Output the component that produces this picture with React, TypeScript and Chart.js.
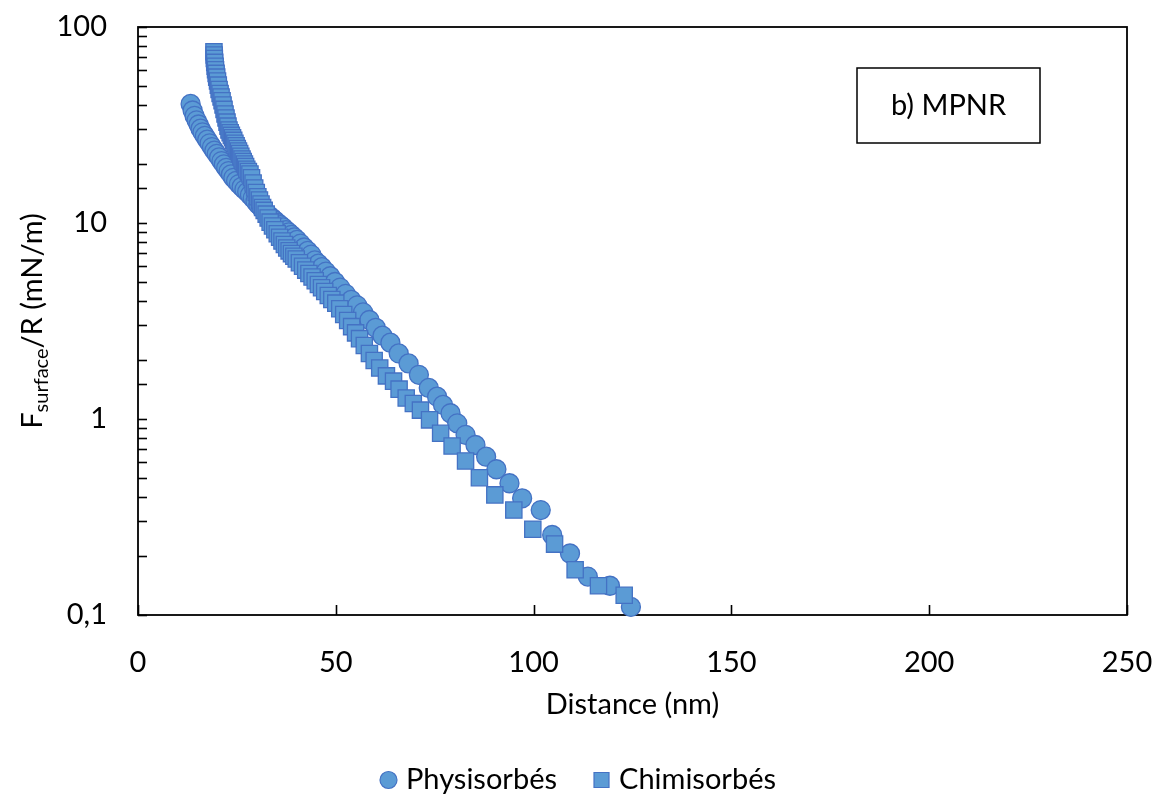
import React, { useEffect, useRef } from "react";
import { Chart, registerables } from "chart.js";

Chart.register(...registerables);

// ---- data ----
const seriesNames = ["Physisorbés", "Chimisorbés"];

const physX = [
  13.3, 13.8, 14.3, 14.8, 15.3, 15.8, 16.3, 16.9, 17.5, 18.1, 18.7, 19.3, 19.9, 20.5, 21.1, 21.7,
  22.3, 22.9, 23.5, 24.1, 24.8, 25.5, 26.2, 26.9, 27.6, 28.3, 29.0, 29.7, 30.4, 31.1, 31.8, 32.5,
  33.2, 33.9, 34.6, 35.3, 36.0, 36.7, 37.4, 38.1, 38.8, 39.5, 40.2, 41.1, 42.0, 42.9, 43.8, 44.7,
  45.6, 46.5, 47.5, 48.6, 49.8, 51.1, 52.5, 53.9, 55.4, 56.9, 58.5, 60.1, 61.8, 63.8, 65.9, 68.4,
  71.0, 73.5, 75.6, 77.1, 79.0, 80.7, 82.8, 85.3, 88.0, 90.6, 93.9, 97.1, 101.8, 104.7, 109.2,
  113.7, 119.3, 124.6,
];
const physY = [
  40.5, 37.5, 35.2, 33.4, 31.8, 30.3, 29.0, 27.8, 26.6, 25.5, 24.4, 23.4, 22.5, 21.6, 20.7, 19.9,
  19.1, 18.4, 17.7, 17.0, 16.4, 15.8, 15.3, 14.8, 14.4, 13.9, 13.4, 12.9, 12.4, 12.0, 11.6, 11.2,
  10.9, 10.6, 10.3, 10.0, 9.75, 9.5, 9.2, 8.95, 8.7, 8.45, 8.2, 7.85, 7.5, 7.2, 6.9, 6.45,
  6.2, 5.95, 5.65, 5.35, 5.0, 4.68, 4.35, 4.05, 3.8, 3.5, 3.2, 2.92, 2.66, 2.45, 2.16, 1.92,
  1.68, 1.44, 1.3, 1.18, 1.07, 0.95, 0.83, 0.737, 0.642, 0.554, 0.47, 0.394, 0.343, 0.256, 0.206,
  0.157, 0.141, 0.11,
];

const chemX = [
  19.2, 19.25, 19.3, 19.4, 19.5, 19.6, 19.75, 19.9, 20.1, 20.3, 20.5, 20.75, 21.0, 21.25, 21.5, 21.75,
  22.0, 22.25, 22.5, 22.75, 23.0, 23.3, 23.6, 23.9, 24.2, 24.5, 24.8, 25.1, 25.4, 25.7, 26.0, 26.3,
  26.6, 26.9, 27.2, 27.5, 27.9, 28.3, 28.7, 29.1, 29.5, 29.9, 30.3, 30.7, 31.1, 31.5, 31.9, 32.4,
  32.9, 33.4, 34.0, 34.6, 35.2, 35.8, 36.4, 37.0, 37.6, 38.2, 38.8, 39.4, 40.0, 40.8, 41.6, 42.4,
  43.2, 44.0, 44.8, 45.6, 46.4, 47.2, 48.1, 49.0, 50.0, 51.0, 52.0, 53.0, 54.0, 55.0, 56.0, 57.2,
  58.5, 59.7, 61.1, 62.8, 64.6, 66.0, 67.8, 69.6, 71.4, 73.7, 76.5, 79.4, 82.8, 86.3, 90.2, 95.0,
  99.8, 105.3, 110.5, 116.4, 122.9,
];
const chemY = [
  74.8, 72.0, 69.0, 66.0, 63.0, 60.5, 58.0, 55.5, 53.0, 50.5, 48.0, 45.8, 43.9, 42.0, 40.0, 38.0,
  36.0, 34.3, 32.7, 31.2, 29.8, 28.9, 28.0, 27.2, 26.4, 25.5, 24.8, 24.0, 23.3, 22.6, 21.9, 21.2,
  20.6, 20.0, 19.4, 18.8, 18.3, 17.8, 17.0, 16.0, 15.1, 14.3, 13.6, 13.1, 12.5, 12.0, 11.6, 11.1,
  10.6, 10.1, 9.66, 9.23, 8.81, 8.45, 8.09, 7.76, 7.46, 7.21, 6.98, 6.76, 6.55, 6.27, 6.01, 5.75,
  5.52, 5.3, 5.07, 4.86, 4.67, 4.47, 4.27, 4.07, 3.9, 3.65, 3.41, 3.18, 2.96, 2.75, 2.57, 2.37,
  2.16, 1.99, 1.82, 1.66, 1.56, 1.42, 1.28, 1.2, 1.11, 0.99, 0.845, 0.728, 0.611, 0.502, 0.41, 0.343,
  0.274, 0.23, 0.17, 0.141, 0.126,
];

const xMin = 0;
const xMax = 250;
const xStep = 50;
const yMin = 0.1;
const yMax = 100;
const yLabelValues = [0.1, 1, 10, 100];

const xTitle = "Distance (nm)";
const yTitleMain = "F";
const yTitleSub = "surface";
const yTitleRest = "/R (mN/m)";
const panelLabel = "b) MPNR";

const FONT = "Lato, 'Open Sans', sans-serif";
const FILL = "#5B9BD5";
const EDGE = "#4472C4";

function fmt(v: number): string {
  return String(v).replace(".", ",");
}

const decorPlugin = {
  id: "decor",
  beforeDatasetsDraw(chart: any) {
    const { ctx, chartArea: a, scales } = chart;
    ctx.save();
    ctx.strokeStyle = "#000";
    ctx.lineWidth = 1.6;
    const ys = scales.y;
    ys.ticks.forEach((t: any) => {
      const p = Math.round(ys.getPixelForValue(t.value)) + 0.5;
      ctx.beginPath();
      ctx.moveTo(a.left, p);
      ctx.lineTo(a.left + 9, p);
      ctx.stroke();
    });
    const xs = scales.x;
    xs.ticks.forEach((t: any) => {
      const p = Math.round(xs.getPixelForValue(t.value)) + 0.5;
      ctx.beginPath();
      ctx.moveTo(p, a.bottom);
      ctx.lineTo(p, a.bottom - 10);
      ctx.stroke();
    });
    ctx.lineWidth = 1.8;
    ctx.strokeRect(a.left, a.top, a.right - a.left, a.bottom - a.top);
    ctx.restore();
  },
  afterDraw(chart: any) {
    const { ctx, chartArea: a } = chart;
    ctx.save();
    // panel label box
    const bx = 857, by = 68, bw = 183, bh = 75;
    ctx.strokeStyle = "#000";
    ctx.lineWidth = 1.5;
    ctx.strokeRect(bx, by, bw, bh);
    ctx.fillStyle = "#000";
    ctx.font = `29px ${FONT}`;
    ctx.textAlign = "center";
    ctx.textBaseline = "middle";
    ctx.fillText(panelLabel, bx + bw / 2, by + bh / 2);

    // y title with subscript
    const mainFont = `29px ${FONT}`;
    const subFont = `20px ${FONT}`;
    ctx.font = mainFont;
    const w1 = ctx.measureText(yTitleMain).width;
    const w3 = ctx.measureText(yTitleRest).width;
    ctx.font = subFont;
    const w2 = ctx.measureText(yTitleSub).width;
    const total = w1 + w2 + w3;
    const cy = (a.top + a.bottom) / 2;
    ctx.translate(42, cy);
    ctx.rotate(-Math.PI / 2);
    ctx.textAlign = "left";
    ctx.textBaseline = "alphabetic";
    let x = -total / 2;
    ctx.font = mainFont;
    ctx.fillText(yTitleMain, x, 0);
    x += w1;
    ctx.font = subFont;
    ctx.fillText(yTitleSub, x, 6);
    x += w2;
    ctx.font = mainFont;
    ctx.fillText(yTitleRest, x, 0);
    ctx.restore();

    // legend
    ctx.save();
    ctx.font = `29px ${FONT}`;
    ctx.textBaseline = "middle";
    ctx.textAlign = "left";
    const ly = 780;
    const mark = 17;
    const gap = 9;
    const itemGap = 36;
    const widths = chart.data.datasets.map((d: any) => ctx.measureText(d.label).width);
    let totalW = 0;
    widths.forEach((w: number, i: number) => {
      totalW += mark + gap + w + (i < widths.length - 1 ? itemGap : 0);
    });
    let lx = chart.width / 2 - totalW / 2;
    chart.data.datasets.forEach((d: any, i: number) => {
      ctx.fillStyle = d.backgroundColor;
      ctx.strokeStyle = d.borderColor;
      ctx.lineWidth = 1.2;
      ctx.beginPath();
      if (d.pointStyle === "circle") {
        ctx.arc(lx + mark / 2, ly, mark / 2, 0, Math.PI * 2);
      } else {
        ctx.rect(lx + 1, ly - mark / 2 + 1, mark - 2, mark - 2);
      }
      ctx.fill();
      ctx.stroke();
      ctx.fillStyle = "#000";
      ctx.fillText(d.label, lx + mark + gap, ly);
      lx += mark + gap + widths[i] + itemGap;
    });
    ctx.restore();
  },
};

export default function App() {
  const ref = useRef<HTMLCanvasElement | null>(null);

  useEffect(() => {
    if (!ref.current) return;
    const chart = new Chart(ref.current, {
      type: "scatter",
      data: {
        datasets: [
          {
            label: seriesNames[0],
            data: physX.map((x, i) => ({ x, y: physY[i] })),
            pointStyle: "circle",
            pointRadius: 9.5,
            pointHoverRadius: 9.5,
            backgroundColor: FILL,
            borderColor: EDGE,
            borderWidth: 1.3,
            showLine: false,
            clip: false,
            order: 2,
          } as any,
          {
            label: seriesNames[1],
            data: chemX.map((x, i) => ({ x, y: chemY[i] })),
            pointStyle: "rect",
            pointRadius: 11.5,
            pointHoverRadius: 11.5,
            backgroundColor: FILL,
            borderColor: EDGE,
            borderWidth: 1.3,
            showLine: false,
            clip: false,
            order: 1,
          } as any,
        ],
      },
      options: {
        animation: false,
        responsive: false,
        devicePixelRatio: 1,
        layout: { padding: { top: 27, right: 29, left: 0, bottom: 0 } },
        plugins: {
          legend: { display: false },
          tooltip: { enabled: false },
        },
        scales: {
          x: {
            type: "linear",
            min: xMin,
            max: xMax,
            ticks: {
              stepSize: xStep,
              color: "#000",
              font: { family: FONT, size: 29 },
              padding: 30,
            },
            grid: { drawOnChartArea: false, drawTicks: false },
            border: { display: false },
            title: {
              display: true,
              text: xTitle,
              color: "#000",
              font: { family: FONT, size: 29 },
              padding: { top: 0, bottom: 77 },
            },
            afterFit(scale: any) {
              scale.height = 184;
              scale.paddingLeft = 0;
              scale.paddingRight = 0;
            },
          },
          y: {
            type: "logarithmic",
            min: yMin,
            max: yMax,
            ticks: {
              autoSkip: false,
              color: "#000",
              font: { family: FONT, size: 29 },
              padding: 31,
              callback: (v: any) => {
                const n = Number(v);
                const hit = yLabelValues.find((t) => Math.abs(t - n) / t < 1e-6);
                return hit !== undefined ? fmt(hit) : "";
              },
            },
            grid: { drawOnChartArea: false, drawTicks: false },
            border: { display: false },
            afterFit(scale: any) {
              scale.width = 138;
              scale.paddingTop = 0;
              scale.paddingBottom = 0;
            },
          },
        },
      } as any,
      plugins: [decorPlugin],
    });
    return () => chart.destroy();
  }, []);

  return (
    <div style={{ position: "absolute", left: 0, top: 0, width: 1156, height: 799, background: "#fff" }}>
      <canvas ref={ref} width={1156} height={799} />
    </div>
  );
}
